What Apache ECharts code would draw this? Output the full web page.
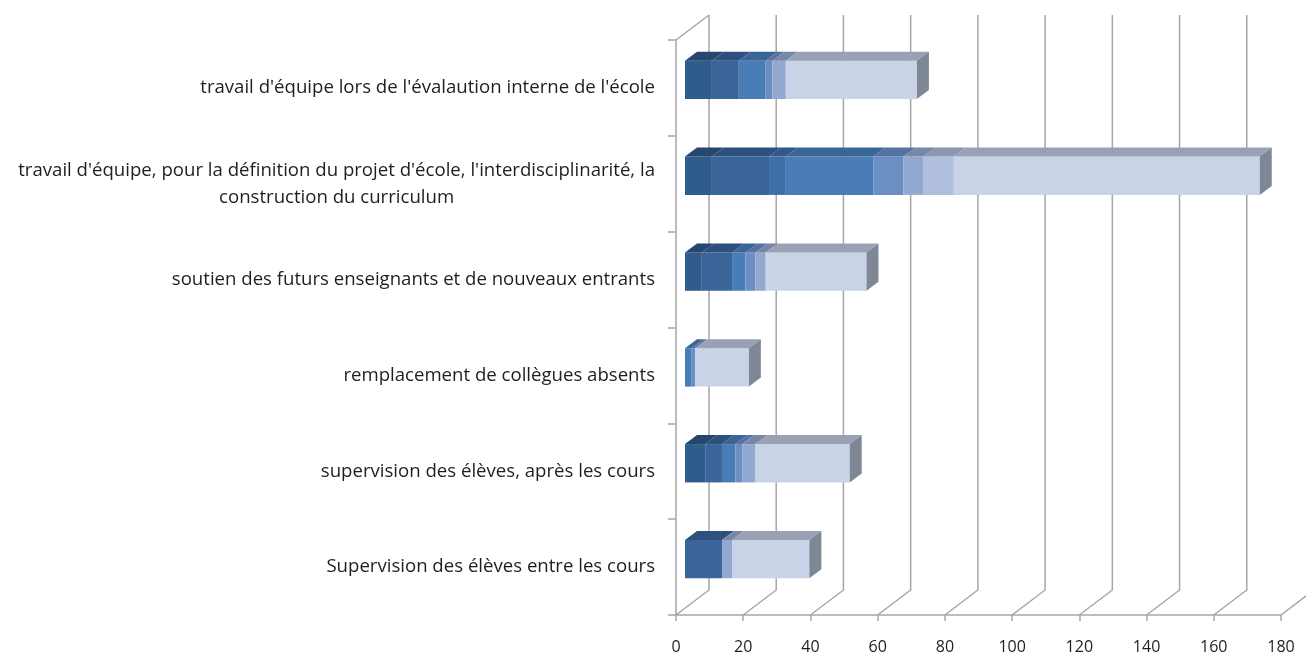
<!DOCTYPE html>
<html>
<head>
<meta charset="utf-8">
<script src="https://cdn.jsdelivr.net/npm/echarts@6/dist/echarts.min.js"></script>
<style>
  html, body { margin: 0; padding: 0; background: #ffffff; }
  #chart { width: 1306px; height: 657px; }
</style>
</head>
<body>
<div id="chart"></div>
<script>
// Categories, listed from top to bottom
const categories = [
  "travail d'équipe lors de l'évalaution interne de l'école",
  "travail d'équipe, pour la définition du projet d'école, l'interdisciplinarité, la\nconstruction du curriculum",
  "soutien des futurs enseignants et de nouveaux entrants",
  "remplacement de collègues absents",
  "supervision des élèves, après les cours",
  "Supervision des élèves entre les cours"
];

// Stacked segment values per category (same order as categories)
const seg1 = [8, 8, 5, 0, 6, 0];
const seg2 = [8, 17, 9, 0, 5, 11];
const seg3 = [0, 5, 0, 0, 0, 0];
const seg4 = [8, 26, 4, 2, 4, 0];
const seg5 = [2, 9, 3, 1, 2, 0];
const seg6 = [4, 6, 3, 0, 4, 3];
const seg7 = [0, 9, 0, 0, 0, 0];
const seg8 = [39, 91, 30, 16, 28, 23];

// Value axis ticks
const xTicks = [0, 20, 40, 60, 80, 100, 120, 140, 160, 180];

const segments = [seg1, seg2, seg3, seg4, seg5, seg6, seg7, seg8];

// Face colours of each segment: front, top
const frontColors = ['#2F5B8D', '#3B6598', '#3F6FA8', '#4A7DB8', '#6B8FC3', '#93A8D0', '#AFBFDC', '#C9D3E8'];
const topColors   = ['#25466D', '#2D507D', '#315A8B', '#3A6597', '#5672A1', '#7886A8', '#8C97AF', '#99A1B3'];
const sideColor = '#7F8696';

// Oblique depth of the plot box and of the bars
const DEPTH_X = 33, DEPTH_Y = 25;
const BAR_OFF_X = 9, BAR_OFF_Y = -8;
const BAR_DX = 12, BAR_DY = 9;

// Build stacked [category, start, end, isLast] rows for each segment series
const lastIndex = categories.map((_, i) => {
  let last = -1;
  segments.forEach((arr, k) => { if (arr[i] > 0) last = k; });
  return last;
});
const stackedData = segments.map((arr, k) => arr.map((v, i) => {
  let start = 0;
  for (let j = 0; j < k; j++) start += segments[j][i];
  return [i, start, start + v, lastIndex[i] === k ? 1 : 0];
}));

function renderSegment(k) {
  return function (params, api) {
    const cat = api.value(0), a = api.value(1), b = api.value(2), isLast = api.value(3);
    if (b <= a) return;
    const p0 = api.coord([a, cat]);
    const p1 = api.coord([b, cat]);
    const band = api.size([0, 1])[1];
    const h = band * 0.4;
    const x0 = p0[0] + BAR_OFF_X, x1 = p1[0] + BAR_OFF_X;
    const yc = p0[1] + BAR_OFF_Y;
    const top = yc - h / 2, bot = yc + h / 2;
    const children = [
      { type: 'rect', shape: { x: x0, y: top, width: x1 - x0, height: h },
        style: { fill: frontColors[k] } },
      { type: 'polygon', shape: { points: [[x0, top], [x1, top], [x1 + BAR_DX, top - BAR_DY], [x0 + BAR_DX, top - BAR_DY]] },
        style: { fill: topColors[k] } }
    ];
    if (isLast) {
      children.push({ type: 'polygon',
        shape: { points: [[x1, top], [x1 + BAR_DX, top - BAR_DY], [x1 + BAR_DX, bot - BAR_DY], [x1, bot]] },
        style: { fill: sideColor } });
    }
    return { type: 'group', children: children };
  };
}

// Back wall gridlines and floor diagonals at each value tick
function renderWalls(params, api) {
  const cs = params.coordSys;
  const v = api.value(0);
  const x = api.coord([v, 0])[0];
  const bottom = cs.y + cs.height, topY = cs.y;
  const lineStyle = { stroke: '#A6A6A6', lineWidth: 1.5 };
  const children = [
    { type: 'polyline', shape: { points: [[x, bottom], [x + DEPTH_X, bottom - DEPTH_Y], [x + DEPTH_X, topY - DEPTH_Y]] },
      style: Object.assign({ fill: null }, lineStyle) }
  ];
  if (v === xTicks[0]) {
    children.push({ type: 'line', shape: { x1: x, y1: topY, x2: x + DEPTH_X, y2: topY - DEPTH_Y }, style: lineStyle });
  }
  return { type: 'group', children: children };
}

const chart = echarts.init(document.getElementById('chart'), null, { renderer: 'canvas' });

const series = [{
  type: 'custom',
  renderItem: renderWalls,
  data: xTicks.map(t => [t]),
  encode: { x: 0 },
  silent: true,
  z: 1
}];
segments.forEach((arr, k) => {
  series.push({
    type: 'custom',
    renderItem: renderSegment(k),
    data: stackedData[k],
    encode: { y: 0, x: [1, 2] },
    silent: true,
    z: 2 + k
  });
});

const labelFont = 'Open Sans';

chart.setOption({
  animation: false,
  backgroundColor: '#ffffff',
  grid: { left: 676, right: 25, top: 40, bottom: 42 },
  xAxis: {
    type: 'value',
    min: 0, max: 180, interval: 20,
    axisLine: { show: true, lineStyle: { color: '#A6A6A6', width: 1.5 } },
    axisTick: { show: true, length: 6, lineStyle: { color: '#A6A6A6', width: 1.5 } },
    splitLine: { show: false },
    axisLabel: { margin: 24, fontSize: 16, fontFamily: labelFont, color: '#1e1e1e' }
  },
  yAxis: {
    type: 'category',
    data: categories,
    inverse: true,
    axisLine: { show: true, lineStyle: { color: '#A6A6A6', width: 1.5 } },
    axisTick: { show: true, length: 8, alignWithLabel: false, lineStyle: { color: '#A6A6A6', width: 1.5 } },
    splitLine: { show: false },
    axisLabel: {
      margin: 21,
      fontSize: 18.6,
      fontFamily: labelFont,
      color: '#1e1e1e',
      lineHeight: 27,
      formatter: function (val) {
        return val.split('\n').map(s => '{c|' + s + '}').join('\n');
      },
      rich: { c: { align: 'center', fontSize: 18.6, fontFamily: labelFont, color: '#1e1e1e', lineHeight: 27 } }
    }
  },
  series: series
});
</script>
</body>
</html>
